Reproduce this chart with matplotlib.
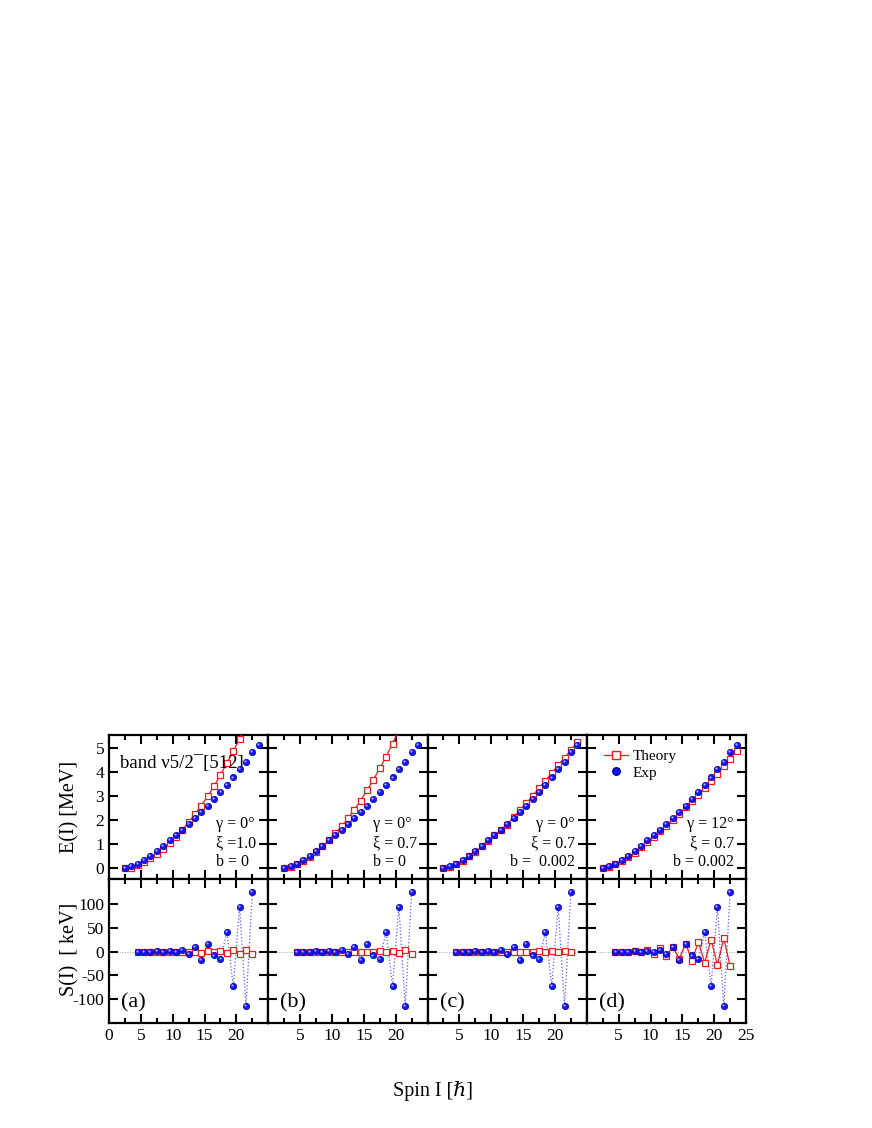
import numpy as np
import matplotlib
matplotlib.use('Agg')
import matplotlib.pyplot as plt
from matplotlib.transforms import offset_copy
from matplotlib.lines import Line2D

plt.rcParams['font.family'] = ['Liberation Serif', 'DejaVu Serif']
plt.rcParams['axes.unicode_minus'] = False

# energies E(I) [MeV], spins 2.5 .. 23.5
spin_E = np.arange(2.5, 24.0, 1.0)
E_exp = [0.00, 0.08, 0.19, 0.33, 0.50, 0.70, 0.92, 1.16, 1.37, 1.60, 1.83,
         2.09, 2.35, 2.61, 2.88, 3.17, 3.46, 3.78, 4.12, 4.41, 4.83, 5.12]
E_th_a = [0.00, 0.03, 0.13, 0.26, 0.43, 0.60, 0.80, 1.04, 1.31, 1.60, 1.92,
          2.26, 2.61, 3.00, 3.43, 3.88, 4.38, 4.88, 5.39, 5.92]
E_th_b = [0.00, 0.06, 0.17, 0.31, 0.47, 0.68, 0.92, 1.17, 1.46, 1.74, 2.08,
          2.43, 2.82, 3.25, 3.68, 4.17, 4.65, 5.19, 5.75]
E_th_c = [0.00, 0.07, 0.18, 0.32, 0.49, 0.69, 0.91, 1.15, 1.37, 1.60, 1.82,
          2.14, 2.42, 2.72, 3.01, 3.35, 3.64, 3.97, 4.29, 4.60, 4.92, 5.24]
E_th_d = [0.00, 0.06, 0.16, 0.29, 0.46, 0.65, 0.87, 1.10, 1.32, 1.54, 1.77,
          2.03, 2.25, 2.54, 2.82, 3.07, 3.36, 3.63, 3.94, 4.25, 4.57, 4.89]

# staggering S(I) [keV], spins 4.5 .. 22.5
spin_S = np.arange(4.5, 23.0, 1.0)
S_exp = [0, 0, 0, 2, 0, 2, 0, 3.5, -5.5, 10, -17, 15.5, -8, -15.5, 41, -72, 94, -115, 126]
S_th_a = [0, 0, 0, 0, 0, 0, 0, 0, 0, 0, -3, 1.5, -1.5, 1.5, -2, 3, -4, 3, -4]
S_th_b = [0, 0, 0, 0, 0, 0, 0, 0, 0, 0, 0, 0, 0, 1, -1, 1, -2, 3.5, -5]
S_th_c = [0, 0, 0, 0, 0, 0, 0, 0, 0, 0, 0, 0, 0, 0.5, -0.5, 0.5, -1, 1, 0]
S_th_d = [0, 0, 0, 2, -1.5, 4, -5.5, 7.5, -10, 10.5, -15, 17, -19, 20, -23, 25, -27.5, 28, -31]

panel_tags = ['(a)', '(b)', '(c)', '(d)']
params = [('γ = 0°', 'ξ =1.0', 'b = 0'),
          ('γ = 0°', 'ξ = 0.7', 'b = 0'),
          ('γ = 0°', 'ξ = 0.7', 'b =  0.002'),
          ('γ = 12°', 'ξ = 0.7', 'b = 0.002')]
E_theory = [E_th_a, E_th_b, E_th_c, E_th_d]
S_theory = [S_th_a, S_th_b, S_th_c, S_th_d]

RED = '#ee1c1c'
BLUE = '#1414f5'
MS_SQ = 4.6
MS_BALL = 4.6


def balls(ax, x, y):
    # shaded sphere look: dark-edged blue disc plus a light highlight
    ax.plot(x, y, 'o', ms=MS_BALL, mfc=BLUE, mec='#0000a8', mew=0.5, ls='none', zorder=4)
    hl = offset_copy(ax.transData, fig=ax.figure, x=-0.7, y=0.7, units='points')
    ax.plot(x, y, 'o', ms=1.6, mfc='#a8aeff', mec='none', ls='none',
            transform=hl, zorder=5)


def style(ax):
    for s in ax.spines.values():
        s.set_linewidth(1.6)
    ax.tick_params(which='both', direction='in', top=True, right=True,
                   width=1.5, labelsize=12.5)
    ax.tick_params(which='major', length=6.5)
    ax.tick_params(which='minor', length=3.5)
    ax.set_xlim(0, 25)
    ax.set_xticks(np.arange(0, 26, 5))
    ax.set_xticks(np.arange(2.5, 25, 5), minor=True)


fig = plt.figure(figsize=(8.72, 11.28), dpi=100)
left, width = 0.125, 0.18265
bot_S, bot_E, h = 0.0931, 0.2207, 0.1277

for i in range(4):
    axE = fig.add_axes([left + i * width, bot_E, width, h])
    axS = fig.add_axes([left + i * width, bot_S, width, h])
    style(axE)
    style(axS)

    # energies
    ET = E_theory[i]
    axE.plot(spin_E[:len(ET)], ET, '-s', color=RED, lw=0.9, ms=MS_SQ,
             mfc='white', mec=RED, mew=0.9, zorder=3)
    balls(axE, spin_E, E_exp)
    axE.set_ylim(-0.45, 5.55)
    axE.set_yticks(range(0, 6))
    axE.tick_params(labelbottom=False)

    # staggering
    axS.axhline(0, color='#a0a0a0', lw=0.7, ls=':', zorder=1)
    axS.plot(spin_S, S_exp, ':', color='#5a5aff', lw=0.9, zorder=2)
    axS.plot(spin_S, S_theory[i], '-s', color=RED, lw=0.9, ms=MS_SQ,
             mfc='white', mec=RED, mew=0.9, zorder=3)
    balls(axS, spin_S, S_exp)
    axS.set_ylim(-150, 153)
    axS.set_yticks([-100, -50, 0, 50, 100])
    axS.text(1.9, -107, panel_tags[i], fontsize=16, va='center', ha='left')

    if i == 0:
        axS.set_xticklabels(['0', '5', '10', '15', '20', ''])
    elif i == 3:
        axS.set_xticklabels(['', '5', '10', '15', '20', '25'])
    else:
        axS.set_xticklabels(['', '5', '10', '15', '20', ''])
    if i > 0:
        axE.tick_params(labelleft=False)
        axS.tick_params(labelleft=False)

    g, xi, b = params[i]
    if i == 0:
        xt, ha = 16.85, 'left'
    elif i == 1:
        xt, ha = 16.5, 'left'
    else:
        xt, ha = 23.1, 'right'
    axE.text(xt, 1.83, g, fontsize=11.5, ha=ha, va='center')
    axE.text(xt, 1.03, xi, fontsize=11.5, ha=ha, va='center')
    axE.text(xt, 0.24, b, fontsize=11.5, ha=ha, va='center')

    if i == 0:
        axE.text(1.7, 4.35, 'band ν5/2\u00af[512]', fontsize=13.5,
                 ha='left', va='center')
    if i == 3:
        handles = [Line2D([], [], color=RED, lw=0.9, marker='s', ms=MS_SQ + 0.8,
                          mfc='white', mec=RED),
                   Line2D([], [], ls='none', marker='o', ms=MS_BALL + 0.8, mfc=BLUE,
                          mec='#0000a8')]
        axE.legend(handles, ['Theory', 'Exp'], loc='upper left',
                   bbox_to_anchor=(0.04, 0.975), frameon=False, fontsize=11,
                   handlelength=1.6, handletextpad=0.3, labelspacing=0.2,
                   borderpad=0.2)

fig.text(0.080, 0.2846, 'E(I) [MeV]', rotation=90, ha='center', va='center', fontsize=14.5)
fig.text(0.080, 0.158, 'S(I)  [ keV]', rotation=90, ha='center', va='center', fontsize=14.5)
fig.text(0.497, 0.0328, 'Spin I [ℏ]', ha='center', va='center', fontsize=14.5)

fig.savefig('out.png', dpi=100)
